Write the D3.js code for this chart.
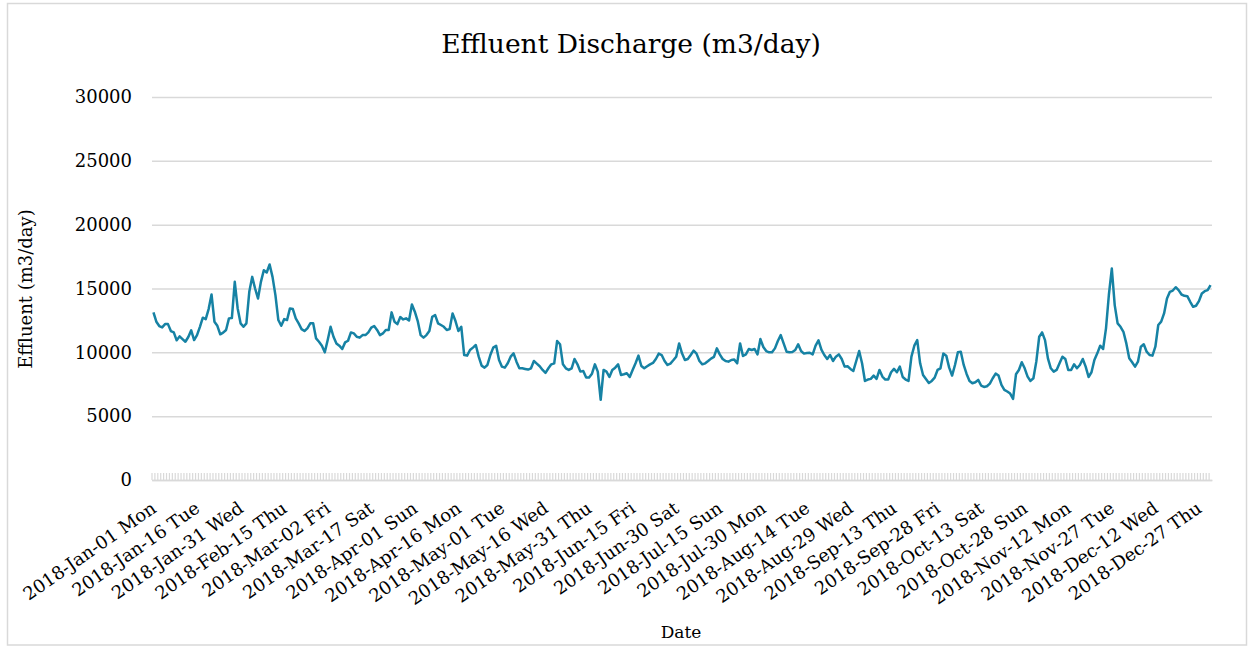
<!DOCTYPE html>
<html>
<head>
<meta charset="utf-8">
<script src="https://cdn.jsdelivr.net/npm/d3@7"></script>
<style>
	body { margin: 0; background: #fff; }
	#app { width: 1251px; height: 647px; }
	text { font-family: 'DejaVu Serif', 'Liberation Serif', serif; fill: #000; }
</style>
</head>
<body>
<div id="app"></div>
<script>
// daily effluent discharge 2018, m3/day, one array per month
const jan = [13130,12400,12060,11950,12210,12210,11670,11560,10940,11250,11040,10830,11200,11720,10960,11350,12000,12710,12600,13390,14530,12400,12080,11410,11540,11750,12660,12680,15520,13440,12270];
const feb = [12000,12270,14740,15910,15000,14220,15520,16430,16250,16880,15910,14480,12530,12080,12600,12530,13440,13390,12660,12270,11820,11670,11880,12270,12270,11090,10830,10520];
const mar = [10000,10960,12000,11220,10700,10520,10260,10780,10910,11560,11480,11220,11150,11350,11350,11560,11930,12060,11750,11350,11480,11750,11750,13130,12400,12210,12760,12580,12660,12500,13750];
const apr = [13180,12450,11350,11150,11350,11670,12790,12920,12270,12140,12000,11750,11820,13050,12450,11670,12000,9790,9740,10180,10370,10570,9660,8960,8800,9010,9790,10370,10520,9400];
const may = [8880,8800,9140,9660,9920,9270,8750,8750,8700,8650,8750,9320,9120,8910,8620,8390,8750,9060,9140,10890,10630,9060,8750,8620,8750,9480,9060,8490,8540,8020,8020];
const jun = [8330,9060,8490,6280,8620,8490,8070,8620,8800,9060,8230,8280,8360,8070,8620,9140,9740,8930,8750,8910,9060,9170,9480,9900,9790,9320,9010,9120,9380,9660];
const jul = [10700,9920,9400,9480,9790,10130,9900,9320,9060,9140,9320,9510,9640,10310,9840,9480,9320,9270,9400,9430,9140,10700,9710,9840,10260,10180,10260,9840,11040,10420,10100];
const aug = [10000,10000,10310,10890,11350,10700,10050,10000,10030,10180,10630,10100,9900,9950,9970,9840,10520,10940,10210,9790,9480,9790,9320,9660,9840,9480,8880,8910,8700,8540,9320];
const sep = [10100,9140,7760,7870,7920,8180,7920,8620,8100,7870,7870,8440,8700,8440,8880,8070,7870,7760,9660,10520,10960,9140,8230,7920,7600,7760,8020,8620,8750,9900];
const oct = [9740,8800,8180,9010,10000,10050,9010,8310,7760,7580,7660,7840,7400,7290,7340,7550,7970,8330,8180,7450,7060,6930,6770,6350,8280,8620,9220,8750,8100,7760,7970];
const nov = [9270,11220,11560,10960,9530,8750,8490,8620,9140,9660,9480,8620,8620,9060,8750,9010,9480,8880,8070,8440,9400,9920,10520,10260,11880,14530,16560,13700,12270,12000];
const dec = [11610,10700,9530,9220,8880,9270,10440,10630,10050,9790,9740,10440,12140,12400,13050,14220,14740,14840,15100,14870,14530,14430,14400,13960,13570,13650,14010,14610,14790,14870,15260];

const yTicks = [0, 5000, 10000, 15000, 20000, 25000, 30000];
const labelEvery = 15; // a category label every 15 days

const values = [].concat(jan, feb, mar, apr, may, jun, jul, aug, sep, oct, nov, dec);
const start = new Date(2018, 0, 1);
const days = values.map((v, i) => ({ date: d3.timeDay.offset(start, i), value: v }));
const fmt = d3.timeFormat('%Y-%b-%d %a');

const W = 1251, H = 647;
const margin = { top: 97, right: 39, bottom: 167, left: 152 };
const width = W - margin.left - margin.right,
	height = H - margin.top - margin.bottom;

const svg = d3.select('#app').append('svg')
	.attr('width', W)
	.attr('height', H);

// chart frame
svg.append('rect')
	.attr('x', 7.5).attr('y', 3.5)
	.attr('width', 1239).attr('height', 641.5)
	.attr('fill', 'none')
	.attr('stroke', '#d9d9d9')
	.attr('stroke-width', 1.5);

const g = svg.append('g')
	.attr('transform', `translate(${margin.left},${margin.top})`);

const x = d3.scaleBand()
	.domain(d3.range(days.length))
	.range([0, width]);

const y = d3.scaleLinear()
	.domain([0, 30000])
	.range([height, 0]);

// horizontal gridlines + y labels
const yAxis = g.append('g')
	.call(d3.axisLeft(y).tickValues(yTicks).tickSize(-width).tickFormat(d3.format('d')));
yAxis.select('.domain').remove();
yAxis.selectAll('.tick line')
	.attr('stroke', '#d9d9d9')
	.attr('stroke-width', 1.5);
yAxis.selectAll('.tick text')
	.attr('x', -20)
	.attr('font-size', 18)
	.attr('font-family', 'DejaVu Serif');

// category axis: a tick per day, labels every 15 days
const xAxis = g.append('g')
	.attr('transform', `translate(0,${height})`)
	.call(d3.axisBottom(x).tickSizeInner(-7).tickSizeOuter(0).tickFormat(''));
xAxis.select('.domain')
	.attr('stroke', '#d9d9d9')
	.attr('stroke-width', 1.5);
xAxis.selectAll('.tick line')
	.attr('stroke', '#d9d9d9')
	.attr('stroke-width', 1.2)
	.attr('transform', `translate(${-x.bandwidth() / 2},0)`);

g.append('g')
	.selectAll('text')
	.data(days.filter((d, i) => i % labelEvery === 0))
	.enter().append('text')
		.attr('transform', d => {
			const i = d3.timeDay.count(start, d.date);
			return `translate(${x(i) + x.bandwidth() / 2 + 4},${height + 31}) rotate(-35)`;
		})
		.attr('text-anchor', 'end')
		.attr('font-size', 18)
		.text(d => fmt(d.date));

// the series
const line = d3.line()
	.x((d, i) => x(i) + x.bandwidth() / 2)
	.y(d => y(d.value));

g.append('path')
	.datum(days)
	.attr('fill', 'none')
	.attr('stroke', '#1682a4')
	.attr('stroke-width', 2.5)
	.attr('stroke-linejoin', 'round')
	.attr('d', line);

// titles
svg.append('text')
	.attr('x', 631).attr('y', 53)
	.attr('text-anchor', 'middle')
	.attr('font-size', 26.5)
	.text('Effluent Discharge (m3/day)');

svg.append('text')
	.attr('transform', 'translate(32,289) rotate(-90)')
	.attr('text-anchor', 'middle')
	.attr('font-size', 18)
	.text('Effluent (m3/day)');

svg.append('text')
	.attr('x', 681).attr('y', 638)
	.attr('text-anchor', 'middle')
	.attr('font-size', 17)
	.text('Date');
</script>
</body>
</html>
